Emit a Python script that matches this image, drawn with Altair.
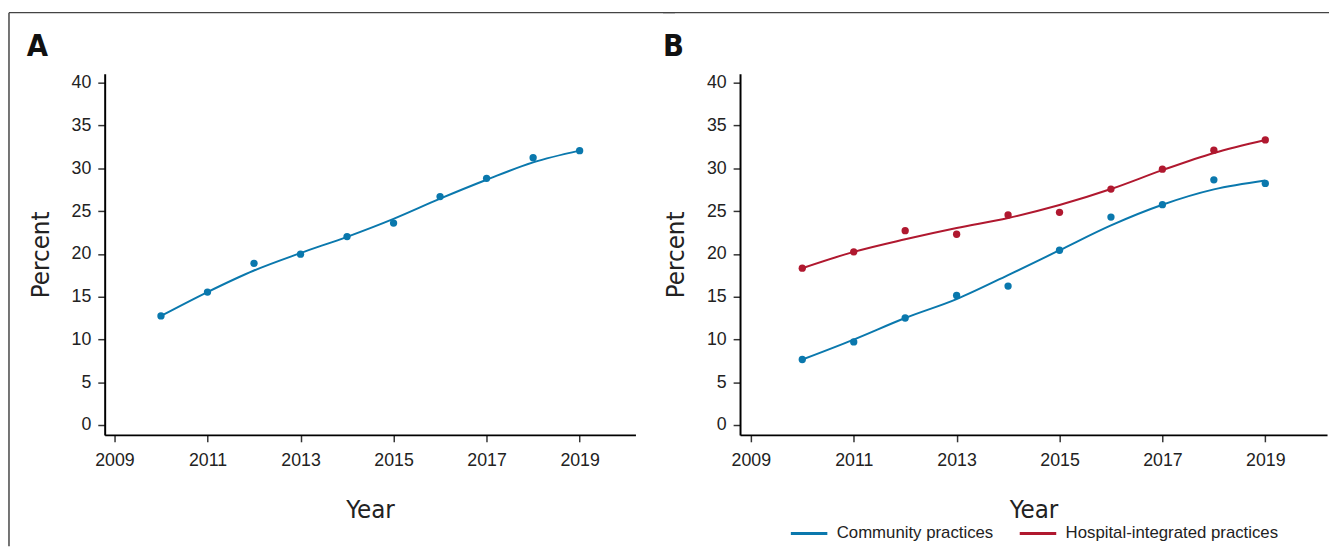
import altair as alt
import pandas as pd

years = list(range(2010, 2020))
a_points = [12.75, 15.54, 18.9, 19.97, 22.03, 23.6, 26.7, 28.83, 31.24, 32.07]
a_fit = [12.75, 15.54, 18.06, 20.1, 22.0, 24.1, 26.46, 28.67, 30.7, 32.07]
comm_points = [7.66, 9.71, 12.51, 15.15, 16.24, 20.43, 24.31, 25.75, 28.66, 28.24]
comm_fit = [7.66, 9.99, 12.51, 14.72, 17.52, 20.43, 23.34, 25.75, 27.54, 28.58]
hosp_points = [18.33, 20.24, 22.72, 22.3, 24.55, 24.86, 27.58, 29.9, 32.12, 33.32]
hosp_fit = [18.33, 20.24, 21.71, 23.03, 24.2, 25.71, 27.58, 29.79, 31.8, 33.32]
series_names = ["Community practices", "Hospital-integrated practices"]
series_colors = ["#0a78ad", "#b0182f"]
x_ticks = [2009, 2011, 2013, 2015, 2017, 2019]
y_ticks = [0, 5, 10, 15, 20, 25, 30, 35, 40]

NARROW = "Liberation Sans Narrow, Arial Narrow, DejaVu Sans Condensed, sans-serif"
REG = "Liberation Sans, Arial, sans-serif"
FRAME = "#444444"

H = 366
WA = 538
WB = 595

df_a = pd.DataFrame({"year": years, "pt": a_points, "fit": a_fit})
rows = []
for i, y in enumerate(years):
    rows.append({"year": y, "pt": comm_points[i], "fit": comm_fit[i], "group": series_names[0]})
    rows.append({"year": y, "pt": hosp_points[i], "fit": hosp_fit[i], "group": series_names[1]})
df_b = pd.DataFrame(rows)
one = pd.DataFrame({"k": [0]})

xscale = alt.Scale(domain=[2008.79, 2020.2], nice=False, zero=False)
yscale = alt.Scale(domain=[-1.15, 41.05], nice=False, zero=False)


def xenc():
    return alt.X("year:Q", scale=xscale,
                 axis=alt.Axis(values=x_ticks, format="d", title="Year"))


def yenc(field):
    return alt.Y(field + ":Q", scale=yscale,
                 axis=alt.Axis(values=y_ticks, title="Percent"))


def panel_label(txt, x):
    return alt.Chart(one).mark_text(
        font=NARROW, fontSize=31, fontWeight="bold", align="left",
        baseline="alphabetic", color="#111"
    ).encode(x=alt.value(x), y=alt.value(-18), text=alt.value(txt))


def hrule(x1, x2, y):
    return alt.Chart(one).mark_rule(color=FRAME, strokeWidth=1.5).encode(
        x=alt.value(x1), x2=alt.value(x2), y=alt.value(y))


def vrule(x, y1, y2):
    return alt.Chart(one).mark_rule(color=FRAME, strokeWidth=1.5).encode(
        x=alt.value(x), y=alt.value(y1), y2=alt.value(y2))


blue = series_colors[0]
line_a = alt.Chart(df_a).mark_line(color=blue, strokeWidth=2, interpolate="monotone").encode(
    x=xenc(), y=yenc("fit"))
pts_a = alt.Chart(df_a).mark_circle(color=blue, size=55, opacity=1).encode(
    x=xenc(), y=yenc("pt"))

panel_a = alt.layer(
    line_a, pts_a,
    panel_label("A", -79),
    vrule(-97, -62, 479),
    hrule(-97, WA + 40, -62),
).properties(width=WA, height=H)

cscale = alt.Scale(domain=series_names, range=series_colors)
leg = alt.Legend(
    title=None, orient="none", legendX=694, legendY=446, direction="horizontal",
    symbolType="stroke", symbolSize=1369, symbolStrokeWidth=3,
    labelFont=REG, labelFontSize=17, labelColor="#222", labelOffset=8,
    labelLimit=0, columnPadding=20, padding=0,
)
line_b = alt.Chart(df_b).mark_line(strokeWidth=2, interpolate="monotone").encode(
    x=xenc(), y=yenc("fit"),
    color=alt.Color("group:N", scale=cscale, legend=leg))
pts_b = alt.Chart(df_b).mark_circle(size=55, opacity=1).encode(
    x=xenc(), y=yenc("pt"),
    color=alt.Color("group:N", scale=cscale, legend=leg))

panel_b = alt.layer(
    line_b, pts_b,
    panel_label("B", -78),
    hrule(-78, WB + 2, -62),
).properties(width=WB, height=H)

chart = alt.hconcat(panel_a, panel_b, spacing=-14).properties(
    padding={"left": 0, "top": 0, "right": 0, "bottom": 0}
).configure_view(stroke=None).configure_axis(
    grid=False,
    domainColor="#000", domainWidth=2,
    tickColor="#333", tickWidth=1.5, tickSize=7,
    labelFont=REG, labelFontSize=18, labelColor="#222", labelLimit=0,
    titleFont=NARROW, titleFontSize=26, titleFontWeight="normal", titleColor="#222",
).configure_axisX(
    labelPadding=10, titlePadding=28,
).configure_axisY(
    labelPadding=7, titlePadding=18,
)

chart.save("out.html", embed_options={"renderer": "svg", "actions": False})
